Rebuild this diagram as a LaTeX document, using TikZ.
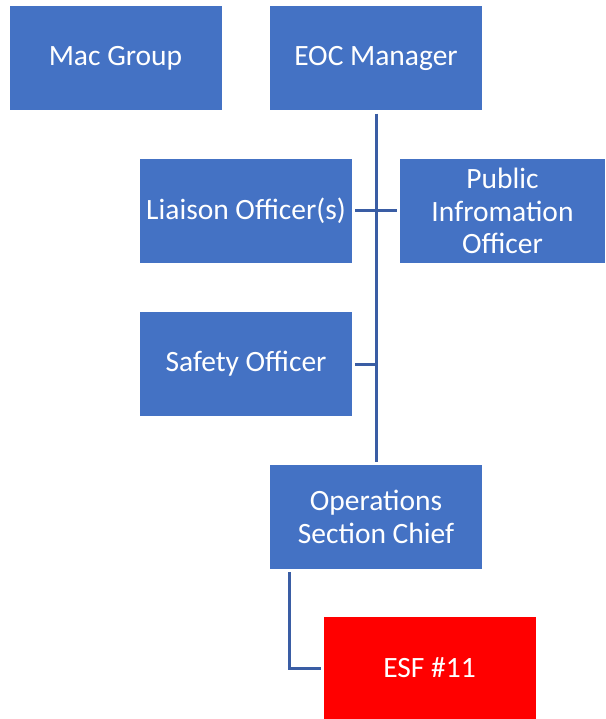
\documentclass[tikz,border=0pt]{standalone}
\usepackage{fontspec}
\setmainfont{Carlito}
\definecolor{boxblue}{HTML}{4472C4}
\definecolor{linkblue}{HTML}{3A5DA4}
\definecolor{esfred}{HTML}{FF0000}
\begin{document}
\begin{tikzpicture}[x=1pt,y=-1pt,
  orgbox/.style={rectangle, fill=boxblue, text=white, inner sep=0pt,
    minimum width=212pt, minimum height=104pt, align=center,
    font=\fontsize{29.5}{32.5}\selectfont},
  link/.style={draw=linkblue, line width=3pt}]
\useasboundingbox (0,0) rectangle (605,719);
% boxes
\node[orgbox] (mac) at (115.5,58.5) {Mac Group};
\node[orgbox] (eoc) at (376,58.5) {EOC Manager};
\node[orgbox] (liaison) at (246,211) {Liaison Officer(s)};
\node[orgbox, minimum width=205pt] (pio) at (502.5,211) {Public\\Infromation\\Officer};
\node[orgbox] (safety) at (246,364) {Safety Officer};
\node[orgbox] (ops) at (376,517) {Operations\\Section Chief};
\node[orgbox, fill=esfred, minimum height=102pt] (esf) at (429.5,668) {ESF \#11};
% connectors
\draw[link, shorten <=3pt, shorten >=3pt] (eoc.south) -- (ops.north);
\draw[link, shorten <=3pt, shorten >=3pt] (liaison.east) -- (pio.west);
\draw[link, shorten <=3pt] (safety.east) -- (safety.east -| eoc.south);
\coordinate (opsdrop) at ([xshift=20pt]ops.south west);
\draw[link, shorten <=3pt, shorten >=2pt] (opsdrop) |- (esf.west);
\end{tikzpicture}
\end{document}
